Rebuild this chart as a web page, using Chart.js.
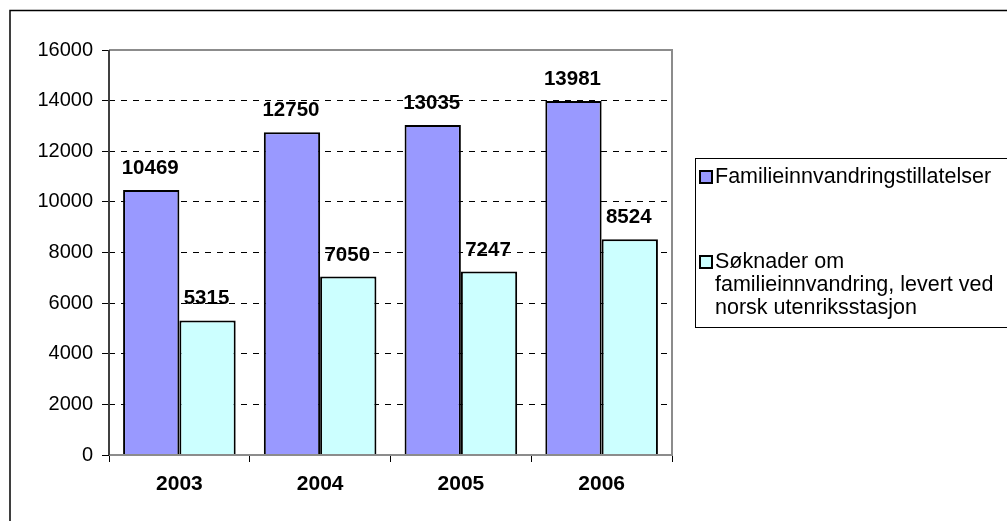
<!DOCTYPE html>
<html lang="no">
  <head>
    <meta charset="utf-8" />
    <title>Familieinnvandring 2003-2006</title>
    <style>
      * {
        margin: 0;
        padding: 0;
      }
      body {
        background: white;
      }
      .chartBox {
        width: 1007px;
        height: 521px;
      }
    </style>
  </head>
  <body>
    <div class="chartBox">
      <canvas id="myChart" width="1007" height="521"></canvas>
    </div>

    <script src="https://cdn.jsdelivr.net/npm/chart.js@4.4.1/dist/chart.umd.min.js"></script>

    <script>
      const years = ["2003", "2004", "2005", "2006"];
      const tillatelser = [10469, 12750, 13035, 13981];
      const soknader = [5315, 7050, 7247, 8524];
      const seriesNames = [
        "Familieinnvandringstillatelser",
        "Søknader om familieinnvandring, levert ved norsk utenriksstasjon",
      ];
      // legend lines for the long label
      const legendLines = [
        ["Familieinnvandringstillatelser"],
        ["Søknader om", "familieinnvandring, levert ved", "norsk utenriksstasjon"],
      ];

      const FONT = "'Liberation Sans', Arial, sans-serif";

      // outer frame + plot border
      const frame = {
        id: "frame",
        beforeDraw(chart) {
          const { ctx } = chart;
          ctx.save();
          ctx.strokeStyle = "#000";
          ctx.lineWidth = 1.5;
          ctx.beginPath();
          ctx.moveTo(10, 521);
          ctx.lineTo(10, 10.5);
          ctx.lineTo(1007, 10.5);
          ctx.stroke();
          ctx.restore();
        },
        afterDatasetsDraw(chart) {
          const { ctx, chartArea: { top, bottom, left, right } } = chart;
          ctx.save();
          ctx.lineWidth = 2;
          ctx.strokeStyle = "#8c8c8c";
          ctx.beginPath();
          ctx.moveTo(left, top);
          ctx.lineTo(right, top);
          ctx.lineTo(right, bottom);
          ctx.lineTo(left, bottom);
          ctx.stroke();
          ctx.strokeStyle = "#404040";
          ctx.beginPath();
          ctx.moveTo(left, bottom);
          ctx.lineTo(left, top);
          ctx.stroke();
          ctx.restore();
        },
      };

      // value labels above bars
      const valueLabels = {
        id: "valueLabels",
        afterDatasetsDraw(chart) {
          const { ctx } = chart;
          ctx.save();
          ctx.font = "bold 20.5px " + FONT;
          ctx.fillStyle = "#000";
          ctx.textAlign = "center";
          ctx.textBaseline = "alphabetic";
          chart.data.datasets.forEach((ds, i) => {
            chart.getDatasetMeta(i).data.forEach((bar, j) => {
              ctx.fillText(String(ds.data[j]), bar.x - 1, bar.y - 16);
            });
          });
          ctx.restore();
        },
      };

      // legend box on the right
      const sideLegend = {
        id: "sideLegend",
        afterDraw(chart) {
          const { ctx } = chart;
          const boxX = 695, boxY = 158, boxW = 330, boxH = 169;
          ctx.save();
          ctx.fillStyle = "#fff";
          ctx.strokeStyle = "#000";
          ctx.lineWidth = 1;
          ctx.fillRect(boxX, boxY, boxW, boxH);
          ctx.strokeRect(boxX + 0.5, boxY + 0.5, boxW, boxH);
          ctx.font = "21.5px " + FONT;
          ctx.textBaseline = "middle";
          const rows = [177, 262];
          chart.data.datasets.forEach((ds, i) => {
            const y = rows[i];
            ctx.fillStyle = ds.backgroundColor;
            ctx.fillRect(700, y - 6, 12, 12);
            ctx.strokeStyle = "#000";
            ctx.lineWidth = 2;
            ctx.strokeRect(700, y - 6, 12, 12);
            ctx.fillStyle = "#000";
            legendLines[i].forEach((line, k) => {
              ctx.fillText(line, 715, y + k * 23);
            });
          });
          ctx.restore();
        },
      };

      const data = {
        labels: years,
        datasets: [
          {
            label: seriesNames[0],
            data: tillatelser,
            backgroundColor: "#9999ff",
            borderColor: "#000",
            borderWidth: 2,
            borderSkipped: "bottom",
            barPercentage: 1.0,
            categoryPercentage: 0.8,
          },
          {
            label: seriesNames[1],
            data: soknader,
            backgroundColor: "#ccffff",
            borderColor: "#000",
            borderWidth: 2,
            borderSkipped: "bottom",
            barPercentage: 1.0,
            categoryPercentage: 0.8,
          },
        ],
      };

      const config = {
        type: "bar",
        data: data,
        options: {
          responsive: false,
          animation: false,
          layout: {
            padding: { left: 0, top: 50, right: 335, bottom: 0 },
          },
          scales: {
            x: {
              afterFit(scale) {
                scale.height = 66;
              },
              border: { display: false },
              grid: {
                offset: true,
                drawOnChartArea: false,
                drawTicks: true,
                tickLength: 7,
                tickColor: "#000",
                tickWidth: 1,
              },
              ticks: {
                color: "#000",
                font: { family: FONT, size: 21, weight: "bold" },
                padding: 10,
              },
            },
            y: {
              min: 0,
              max: 16000,
              afterFit(scale) {
                scale.width = 109;
              },
              border: { display: false, dash: [6, 6] },
              grid: {
                color: (c) =>
                  c.tick && (c.tick.value === 0 || c.tick.value === 16000)
                    ? "rgba(0,0,0,0)"
                    : "#000",
                lineWidth: 1,
                tickBorderDash: [],
                tickColor: "#000",
                tickLength: 7,
                tickWidth: 1,
              },
              ticks: {
                stepSize: 2000,
                color: "#000",
                font: { family: FONT, size: 20 },
                padding: 9,
                callback: (v) => String(v),
              },
            },
          },
          plugins: {
            legend: { display: false },
            tooltip: { enabled: false },
          },
        },
        plugins: [frame, valueLabels, sideLegend],
      };

      const myChart = new Chart(document.getElementById("myChart"), config);
    </script>
  </body>
</html>
